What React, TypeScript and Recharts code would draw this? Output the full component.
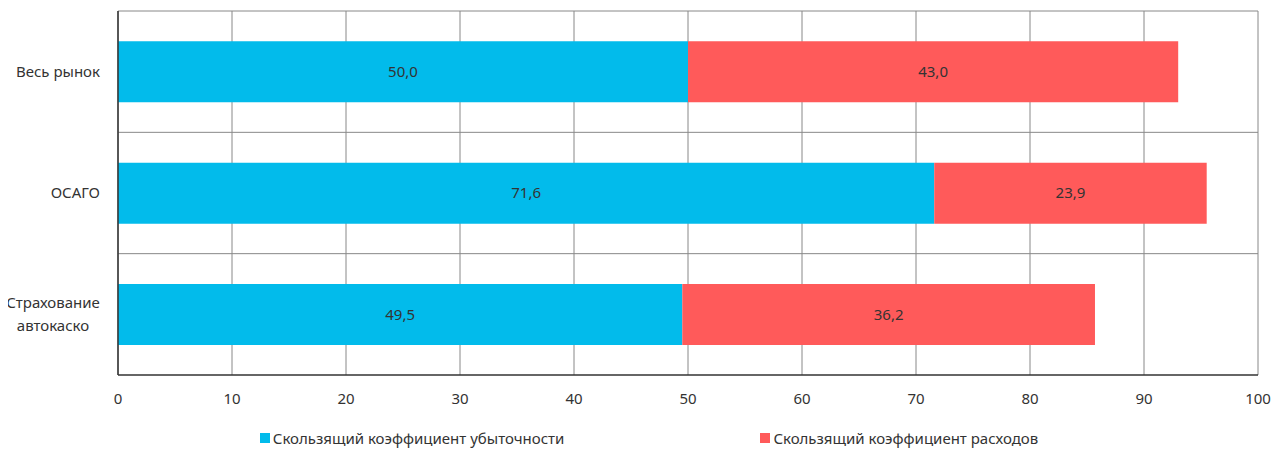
import { BarChart, Bar, XAxis, YAxis, CartesianGrid, Legend, LabelList } from 'recharts';

const categories = ['Весь рынок', 'ОСАГО', 'Страхование\nавтокаско'];
const lossRatio = [50.0, 71.6, 49.5];
const expenseRatio = [43.0, 23.9, 36.2];
const xTicks = [0, 10, 20, 30, 40, 50, 60, 70, 80, 90, 100];

const SERIES = [
  { key: 'loss', name: 'Скользящий коэффициент убыточности', color: '#02BBEB' },
  { key: 'expense', name: 'Скользящий коэффициент расходов', color: '#FF5A5A' },
];

const FONT = '"Noto Sans", sans-serif';
const TEXT = '#333333';
const FS = 15;

const data = categories.map((name, i) => ({
  name,
  loss: lossRatio[i],
  expense: expenseRatio[i],
}));

const fmt = (v: number) => v.toFixed(1).replace('.', ',');

function CategoryTick({ x, y, payload }: any) {
  const lines = String(payload.value).split('\n');
  if (lines.length === 1) {
    return (
      <text x={x} y={y} dy={5} textAnchor="end" fill={TEXT} fontSize={FS} fontFamily={FONT}>
        {lines[0]}
      </text>
    );
  }
  // multi-line labels are centred on themselves, block kept right-aligned
  const half = 47;
  return (
    <text x={x - half} y={y} textAnchor="middle" fill={TEXT} fontSize={FS} fontFamily={FONT}>
      {lines.map((l, i) => (
        <tspan key={l} x={x - half} dy={i === 0 ? -6 : 23}>
          {l}
        </tspan>
      ))}
    </text>
  );
}

function LegendContent() {
  return (
    <div
      style={{
        display: 'flex',
        justifyContent: 'center',
        gap: 196,
        paddingTop: 24,
        paddingLeft: 40,
        lineHeight: '18px',
        fontFamily: FONT,
        fontSize: FS,
        color: TEXT,
      }}
    >
      {SERIES.map((s) => (
        <div key={s.key} style={{ display: 'flex', alignItems: 'center' }}>
          <span style={{ width: 10, height: 10, background: s.color, marginRight: 3, display: 'inline-block' }} />
          {s.name}
        </div>
      ))}
    </div>
  );
}

export default function App() {
  return (
    <div style={{ position: 'relative', top: -8, left: -8, width: 1280, height: 450, background: '#fff' }}>
      <BarChart
        width={1280}
        height={450}
        data={data}
        layout="vertical"
        barCategoryGap="25%"
        margin={{ top: 11, right: 22, left: 0, bottom: 0 }}
      >
        <CartesianGrid
          stroke="#888888"
          strokeWidth={1}
          horizontalCoordinatesGenerator={({ offset }: any) =>
            [0, 1, 2].map((i) => offset.top + (offset.height * i) / categories.length)
          }
        />
        <XAxis
          type="number"
          domain={[0, 100]}
          ticks={xTicks}
          interval={0}
          tickLine={false}
          axisLine={{ stroke: TEXT, strokeWidth: 1.5 }}
          tick={{ fill: TEXT, fontSize: FS, fontFamily: FONT }}
          tickMargin={12}
          height={30}
        />
        <YAxis
          type="category"
          dataKey="name"
          width={118}
          tickLine={false}
          axisLine={{ stroke: TEXT, strokeWidth: 1.5 }}
          tick={<CategoryTick />}
          tickMargin={12}
        />
        <Legend verticalAlign="bottom" height={45} content={<LegendContent />} />
        {SERIES.map((s) => (
          <Bar key={s.key} dataKey={s.key} name={s.name} stackId="a" fill={s.color} isAnimationActive={false}>
            <LabelList
              dataKey={s.key}
              position="center"
              formatter={(v: any) => fmt(Number(v))}
              fill={TEXT}
              fontSize={FS}
              fontFamily={FONT}
            />
          </Bar>
        ))}
      </BarChart>
    </div>
  );
}
